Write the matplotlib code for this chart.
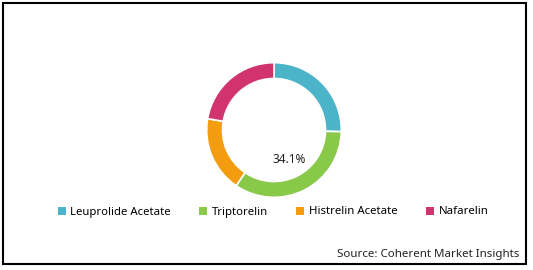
import matplotlib.pyplot as plt
from matplotlib.patches import Rectangle, Patch

categories = ["Leuprolide Acetate", "Triptorelin", "Histrelin Acetate", "Nafarelin"]
shares = [25.4, 34.1, 18.2, 22.3]
colours = ["#4BB4C9", "#88C94A", "#F39C0F", "#D0336D"]
shown_label = "Triptorelin"
source = "Source: Coherent Market Insights"

plt.rcParams["font.family"] = ["Noto Sans", "DejaVu Sans"]

W, H = 533, 270
fig = plt.figure(figsize=(W / 100, H / 100), dpi=100)

# outer frame
fig.patches.append(Rectangle((3 / W, 6 / H), 523 / W, 261 / H, transform=fig.transFigure,
                             fill=False, edgecolor="black", linewidth=1.5))

# donut: centre (274,130), radius 68 px
ax = fig.add_axes([206 / W, (H - 198) / H, 136 / W, 136 / H])


def pct_label(p):
    return "%.1f%%" % p if abs(p - shares[categories.index(shown_label)]) < 0.05 else ""


wedges, _, autotexts = ax.pie(shares, colors=colours, startangle=90, counterclock=False,
                              radius=1.0, autopct=pct_label, pctdistance=0.49,
                              wedgeprops=dict(width=0.235, edgecolor="white", linewidth=1.2),
                              textprops=dict(fontsize=8.5, color="#222222"))
ax.set_xlim(-1.01, 1.01)
ax.set_ylim(-1.01, 1.01)
ax.set_aspect("equal")
ax.axis("off")

handles = [Patch(facecolor=c, edgecolor="none") for c in colours]
fig.legend(handles, categories, loc="center", bbox_to_anchor=(273 / W, 1 - 212 / H),
           ncol=4, frameon=False, fontsize=8.2, handlelength=0.7, handleheight=0.7,
           handletextpad=0.4, columnspacing=2.5, borderaxespad=0)

fig.text(519 / W, 1 - 254 / H, source, ha="right", va="center", fontsize=8.3, color="#222222")

fig.savefig("out.png", dpi=100)
